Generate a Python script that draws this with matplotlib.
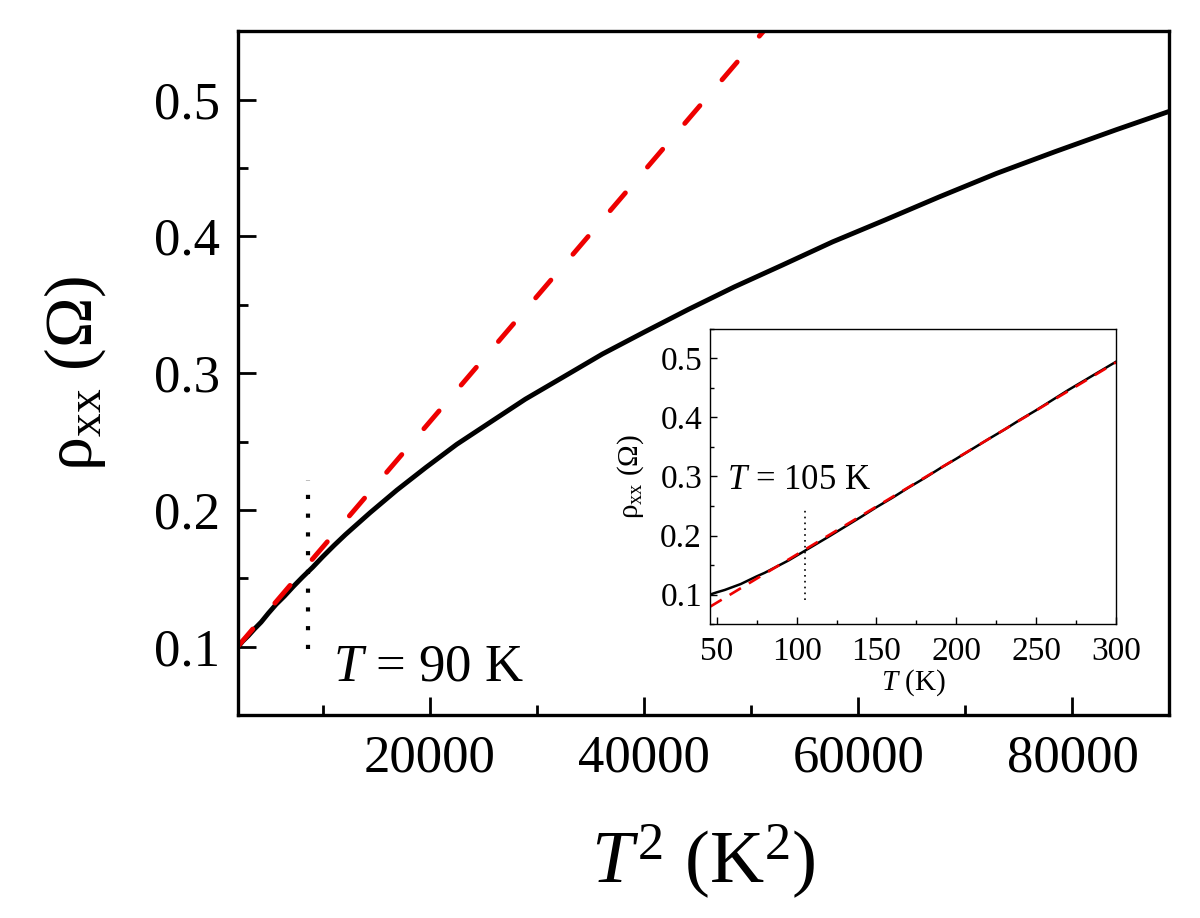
import numpy as np
import matplotlib
matplotlib.use('Agg')
import matplotlib.pyplot as plt
from matplotlib.ticker import MultipleLocator

plt.rcParams['font.family'] = ['Liberation Serif', 'DejaVu Serif']
plt.rcParams['mathtext.fontset'] = 'custom'
plt.rcParams['mathtext.rm'] = 'Liberation Serif'
plt.rcParams['mathtext.it'] = 'Liberation Serif:italic'

T = [45, 50, 55, 60, 65, 70, 75, 80, 85, 90, 95, 100, 105, 110, 120, 130,
     140, 150, 160, 170, 180, 190, 200, 210, 220, 230, 240, 250, 260, 270,
     280, 290, 300]
rho = [0.0995, 0.104, 0.108, 0.113, 0.118, 0.1245, 0.131, 0.137, 0.144,
       0.151, 0.158, 0.166, 0.174, 0.182, 0.198, 0.2145, 0.231, 0.248, 0.264,
       0.281, 0.297, 0.314, 0.330, 0.3465, 0.363, 0.379, 0.396, 0.412, 0.429,
       0.446, 0.462, 0.478, 0.494]

# linear fit in T^2 (main panel)
fitT2_x = [2025, 60000]
fitT2_y = [0.100, 0.6311]

# linear fit in T (inset)
fitT_x = [46, 300]
fitT_y = [0.080, 0.493]

T_main = 8600     # dotted marker for T = 90 K (position as drawn)
T_inset = 105

T = np.array(T)
rho = np.array(rho)

fig = plt.figure(figsize=(12, 9.18), dpi=100)
ax = fig.add_axes([0.198, 0.221, 0.776, 0.745])

ax.plot(T**2, rho, color='black', lw=3.5, solid_capstyle='round',
        solid_joinstyle='round')
ax.plot(fitT2_x, fitT2_y, color='#ee0000', lw=3.5, dashes=(4.8, 7.0),
        dash_capstyle='round')
ax.plot([T_main, T_main], [0.0985, 0.2216], color='black', lw=3.0,
        linestyle=(0, (1, 3.5)))
ax.text(10900, 0.075, '$T$ = 90 K', fontsize=38)

ax.set_xlim(2025, 89000)
ax.set_ylim(0.05, 0.55)
ax.set_xticks([20000, 40000, 60000, 80000])
ax.xaxis.set_minor_locator(MultipleLocator(10000))
ax.set_yticks([0.1, 0.2, 0.3, 0.4, 0.5])
ax.yaxis.set_minor_locator(MultipleLocator(0.05))
ax.tick_params(which='both', direction='in', width=2, labelsize=38)
ax.tick_params(which='major', length=13)
ax.tick_params(which='minor', length=7)
ax.tick_params(axis='y', pad=13)
ax.tick_params(axis='x', pad=14)
for s in ax.spines.values():
    s.set_linewidth(2.4)
ax.set_xlabel('$T^2$ (K$^2$)', fontsize=54, labelpad=29)
ax.set_ylabel('ρ$_{\\mathrm{xx}}$ (Ω)', fontsize=49, labelpad=33)

# inset
ins = fig.add_axes([0.592, 0.320, 0.338, 0.322])
ins.plot(T, rho, color='black', lw=1.8)
ins.plot(fitT_x, fitT_y, color='#ee0000', lw=1.9, dashes=(5, 3.5))
ins.plot([T_inset, T_inset], [0.0905, 0.243], color='black', lw=1.2,
         linestyle=(0, (1, 2.5)))
ins.text(56.3, 0.278, '$T$ = 105 K', fontsize=25)

ins.set_xlim(46, 300)
ins.set_ylim(0.05, 0.55)
ins.set_xticks([50, 100, 150, 200, 250, 300])
ins.xaxis.set_minor_locator(MultipleLocator(25))
ins.set_yticks([0.1, 0.2, 0.3, 0.4, 0.5])
ins.yaxis.set_minor_locator(MultipleLocator(0.05))
ins.tick_params(which='both', direction='in', width=1, labelsize=24)
ins.tick_params(which='major', length=5)
ins.tick_params(which='minor', length=3)
ins.tick_params(axis='y', pad=6)
ins.tick_params(axis='x', pad=9)
for s in ins.spines.values():
    s.set_linewidth(1.0)
ins.set_xlabel('$T$ (K)', fontsize=21, labelpad=0)
ins.set_ylabel('ρ$_{\\mathrm{xx}}$ (Ω)', fontsize=21, labelpad=10)

fig.savefig('out.png', dpi=100)
